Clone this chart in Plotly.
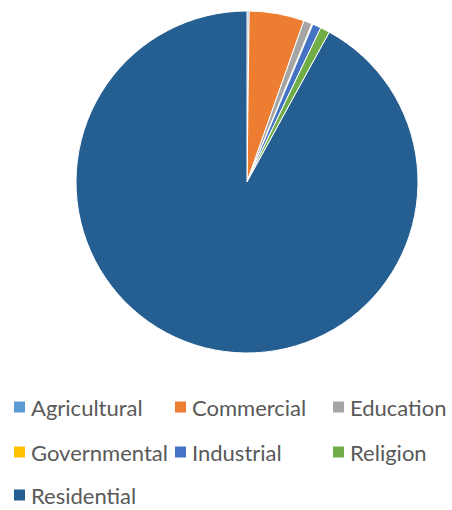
import plotly.graph_objects as go

# Land-use categories and their shares (%)
categories = ["Agricultural", "Commercial", "Education", "Governmental",
              "Industrial", "Religion", "Residential"]
shares = [0.2, 5.2, 0.8, 0.1, 0.8, 0.9, 92.0]
colors = ["#5B9BD5", "#ED7D31", "#A5A5A5", "#FFC000",
          "#4472C4", "#70AD47", "#255E91"]

W, H = 452, 510
cx, cy, r = 247, 182, 171

fig = go.Figure(go.Pie(
    labels=categories,
    values=shares,
    sort=False,
    direction="clockwise",
    rotation=0,
    textinfo="none",
    hoverinfo="label+percent",
    showlegend=False,
    marker=dict(colors=colors, line=dict(color="white", width=1)),
    domain=dict(x=[(cx - r) / W, (cx + r) / W],
                y=[1 - (cy + r) / H, 1 - (cy - r) / H]),
))

# Legend laid out in three columns beneath the pie
col_x = [14, 175, 333]
row_y = [407, 452, 495]
box = 11
for i, (name, col) in enumerate(zip(categories, colors)):
    x = col_x[i % 3]
    y = row_y[i // 3]
    fig.add_shape(type="rect", xref="paper", yref="paper",
                  x0=x / W, x1=(x + box) / W,
                  y0=1 - (y + box / 2) / H, y1=1 - (y - box / 2) / H,
                  fillcolor=col, line=dict(width=0))
    fig.add_annotation(xref="paper", yref="paper",
                       x=(x + box + 4) / W, y=1 - y / H,
                       xanchor="left", yanchor="middle",
                       text=name, showarrow=False,
                       font=dict(family="Lato", size=22, color="#595959"))

fig.update_layout(
    width=W, height=H,
    margin=dict(l=0, r=0, t=0, b=0),
    paper_bgcolor="white",
    plot_bgcolor="white",
    font=dict(family="Lato", color="#595959"),
)

fig.write_html("out.html")
